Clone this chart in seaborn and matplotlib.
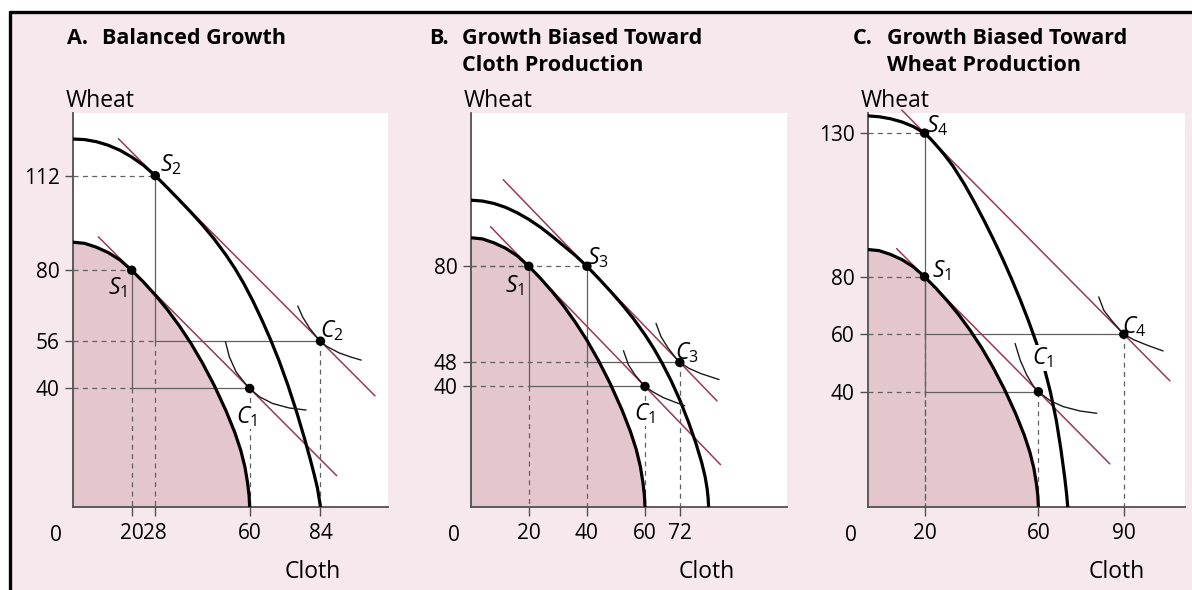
import matplotlib.pyplot as plt
import seaborn as sns
from matplotlib.lines import Line2D
from matplotlib.patches import Rectangle

# frontier before growth (same curve in all three panels)
ppf_cloth = [0, 4, 8, 12, 16, 20, 24, 28, 32, 36, 40, 44, 48, 52, 55, 57, 58.4, 59.3, 59.8, 60]
ppf_wheat = [89.5, 89.1, 87.8, 86.0, 83.5, 80, 76.0, 71.6, 66.8, 61.4, 55.4, 48.6, 41.0, 32.4, 25.0, 19.0, 13.4, 8.0, 3.8, 0]

# A. balanced growth
a_ppf_cloth = [0, 4, 8, 12, 16, 20, 24, 28, 32, 36, 40, 44, 48, 52, 55, 58, 61, 64, 67, 70,
               73, 76, 78.5, 80.5, 82, 83, 84]
a_ppf_wheat = [124.4, 124.2, 123.5, 122.3, 120.6, 118.3, 115.5, 112, 108, 103.9, 99.7, 95.3,
               90.5, 85.1, 80.6, 75.5, 69.8, 63.5, 56.7, 49.3, 41.0, 31.8, 23.4, 16.2, 10.4, 6.2, 0]
a_line1_cloth, a_line1_wheat = [8.7, 89.5], [91.3, 10.5]
a_line2_cloth, a_line2_wheat = [15.5, 102.5], [124.5, 37.5]
a_ic1_cloth = [51.8, 53.1, 55.4, 58.2, 60, 63.3, 67.8, 73.4, 79.1]
a_ic1_wheat = [55.8, 50.7, 45.6, 42.0, 40, 37.2, 34.9, 33.4, 32.7]
a_ic2_cloth = [76.3, 78.0, 80.3, 82.3, 84, 86.0, 90.4, 94.4, 97.8]
a_ic2_wheat = [67.9, 64.1, 60.4, 57.9, 56, 54.3, 52.0, 50.6, 49.6]
a_pts_cloth = [20, 28, 60, 84]
a_pts_wheat = [80, 112, 40, 56]
a_pts_label = ['$S_1$', '$S_2$', '$C_1$', '$C_2$']
a_xticks = [20, 28, 60, 84]
a_yticks = [40, 56, 80, 112]

# B. growth biased toward cloth
b_ppf_cloth = [0, 4, 8, 12, 16, 20, 24, 28, 32, 36, 40, 44, 48, 52, 56, 60, 63, 66, 69, 72,
               75, 77.5, 79.5, 80.7, 81.4, 81.75, 81.9]
b_ppf_wheat = [102.0, 101.7, 100.9, 99.6, 97.8, 95.6, 93.0, 90.0, 86.8, 83.6, 80, 76.0, 71.8,
               67.4, 62.6, 57.2, 52.7, 47.6, 41.9, 35.5, 28.1, 21.2, 14.8, 10.0, 6.0, 2.8, 0]
b_line1_cloth, b_line1_wheat = [6.8, 86], [93.2, 14]
b_line2_cloth, b_line2_wheat = [11.2, 84.8], [108.8, 35.2]
b_ic1_cloth = [52.6, 54.3, 56.6, 58.8, 60, 62.9, 66.3, 70.3, 73.7]
b_ic1_wheat = [51.9, 47.2, 43.8, 41.3, 40, 38.1, 36.3, 34.8, 33.6]
b_ic2_cloth = [63.8, 65.5, 67.8, 70.1, 72, 75.2, 79.2, 85.5]
b_ic2_wheat = [61, 56.6, 53.0, 50.1, 48, 46, 44.3, 42.3]
b_pts_cloth = [20, 40, 60, 72]
b_pts_wheat = [80, 80, 40, 48]
b_pts_label = ['$S_1$', '$S_3$', '$C_1$', '$C_3$']
b_xticks = [20, 40, 60, 72]
b_yticks = [40, 48, 80]

# C. growth biased toward wheat
c_ppf_cloth = [0, 4, 8, 12, 16, 20, 22, 24, 26.7, 30, 34, 37.5, 41.2, 44.5, 47.5, 50.5, 53.5,
               56.5, 59.3, 62, 64.2, 66.3, 67.9, 69.2, 69.9, 70.3]
c_ppf_wheat = [136.0, 135.7, 135.0, 133.9, 132.3, 130, 128.1, 125.9, 122.8, 118.5, 112.2, 106.0,
               99.0, 92.4, 86.1, 79.4, 72.3, 64.7, 57.0, 48.5, 40.0, 30.0, 20.0, 10.5, 4.5, 0]
c_line1_cloth, c_line1_wheat = [10.2, 85.1], [89.8, 14.9]
c_line2_cloth, c_line2_wheat = [12, 106.2], [138, 43.8]
c_ic1_cloth = [51.8, 53.6, 55.9, 58.2, 60, 64.1, 68.8, 74.6, 80.5]
c_ic1_wheat = [56.8, 51, 45.8, 42.0, 40, 36.9, 34.8, 33.3, 32.5]
c_ic2_cloth = [81.2, 83, 85.9, 88.2, 90, 93.5, 98.2, 103.8]
c_ic2_wheat = [73, 68.3, 64.6, 62.0, 60, 58.1, 56.2, 54.2]
c_pts_cloth = [20, 20, 60, 90]
c_pts_wheat = [80, 130, 40, 60]
c_pts_label = ['$S_1$', '$S_4$', '$C_1$', '$C_4$']
c_xticks = [20, 60, 90]
c_yticks = [40, 60, 80, 130]

BG = '#f6e8ed'
FILL = '#e4c6cf'
RED = '#9c3a52'
GUIDE = '#606060'
AXIS = '#505050'

sns.set_theme(style='white')
plt.rcParams['font.family'] = ['Open Sans', 'DejaVu Sans']
plt.rcParams['mathtext.fontset'] = 'custom'
plt.rcParams['mathtext.it'] = 'Open Sans:italic'
plt.rcParams['mathtext.rm'] = 'Open Sans'
for key in ['text.color', 'axes.labelcolor', 'xtick.color', 'ytick.color']:
    plt.rcParams[key] = 'black'

W, H = 1192, 590
fig = plt.figure(figsize=(W / 100, H / 100), dpi=100)
fig.patch.set_facecolor('white')
fig.add_artist(Rectangle((10 / W, 0), 1, 1 - 12 / H, transform=fig.transFigure,
                         facecolor=BG, edgecolor='none', zorder=-10))
fig.add_artist(Line2D([10 / W, 1], [1 - 12 / H] * 2, color='black', lw=2.4))
fig.add_artist(Line2D([10 / W] * 2, [0, 1 - 12 / H], color='black', lw=2.4))


def guides(ax, s, c):
    # dashed to the axes, solid between production and consumption point
    dash = dict(color=GUIDE, lw=0.9, ls=(0, (4, 3.5)), zorder=2)
    solid = dict(color=GUIDE, lw=0.9, zorder=2)
    ax.plot([0, s[0]], [s[1], s[1]], **dash)
    ax.plot([s[0], s[0]], [s[1], c[1]], **solid)
    ax.plot([s[0], s[0]], [c[1], 0], **dash)
    ax.plot([0, s[0]], [c[1], c[1]], **dash)
    ax.plot([s[0], c[0]], [c[1], c[1]], **solid)
    ax.plot([c[0], c[0]], [c[1], 0], **dash)


def panel(pos, xlim, ylim, outer, lines, ics, pts, xticks, yticks, offsets, cloth_x):
    ax = fig.add_axes(pos)
    ax.set_facecolor('white')
    ax.fill_between(ppf_cloth, ppf_wheat, 0, color=FILL, lw=0, zorder=1)
    cx, cy, labels = pts
    guides(ax, (cx[0], cy[0]), (cx[2], cy[2]))
    guides(ax, (cx[1], cy[1]), (cx[3], cy[3]))
    for lx, ly in lines:
        sns.lineplot(x=lx, y=ly, ax=ax, color=RED, lw=1.1, sort=False,
                     estimator=None, zorder=3, clip_on=False)
    for px, py in [(ppf_cloth, ppf_wheat), outer]:
        sns.lineplot(x=px, y=py, ax=ax, color='black', lw=2.3, sort=False,
                     estimator=None, zorder=4, solid_joinstyle='round')
    for ix, iy in ics:
        sns.lineplot(x=ix, y=iy, ax=ax, color='#1a1a1a', lw=1.0, sort=False,
                     estimator=None, zorder=4)
    sns.scatterplot(x=cx, y=cy, ax=ax, color='black', s=46, edgecolor='none', zorder=5)
    for x, y, t, (dx, dy) in zip(cx, cy, labels, offsets):
        kw = {}
        if t == '$C_1$':
            kw['bbox'] = dict(facecolor='white', edgecolor='none', pad=0.3)
        ax.annotate(t, (x, y), xytext=(dx, dy), textcoords='offset points',
                    ha='center', va='center', fontsize=16.5, zorder=6, **kw)
    ax.set_xlim(*xlim)
    ax.set_ylim(*ylim)
    ax.set_xticks(xticks)
    ax.set_yticks(yticks)
    ax.set_xlabel('')
    ax.set_ylabel('')
    for side in ['top', 'right']:
        ax.spines[side].set_visible(False)
    for side in ['left', 'bottom']:
        ax.spines[side].set_color(AXIS)
        ax.spines[side].set_linewidth(1.3)
    ax.tick_params(axis='x', direction='out', length=6.5, width=1, color=AXIS,
                   labelsize=15, pad=5, bottom=True)
    ax.tick_params(axis='y', direction='out', length=5.5, width=1, color=AXIS,
                   labelsize=15, pad=4, left=True)
    ax.annotate('0', (0, 0), xytext=(-12, -20.5), textcoords='offset points',
                ha='center', va='center', fontsize=15, annotation_clip=False)
    ax.text(cloth_x, -0.18, 'Cloth', transform=ax.transAxes, ha='center',
            va='baseline', fontsize=16.5)
    ax.text(-0.022, 1.015, 'Wheat', transform=ax.transAxes, ha='left',
            va='baseline', fontsize=16.5)
    return ax


panel([0.0610, 0.1412, 0.2645, 0.6673], (0, 106.9), (0, 133.2),
      (a_ppf_cloth, a_ppf_wheat),
      [(a_line1_cloth, a_line1_wheat), (a_line2_cloth, a_line2_wheat)],
      [(a_ic1_cloth, a_ic1_wheat), (a_ic2_cloth, a_ic2_wheat)],
      (a_pts_cloth, a_pts_wheat, a_pts_label), a_xticks, a_yticks,
      [(-10, -12.5), (11, 8), (-2, -20), (8.3, 7.3)], 0.762)

panel([0.3949, 0.1412, 0.2651, 0.6673], (0, 108.8), (0, 131),
      (b_ppf_cloth, b_ppf_wheat),
      [(b_line1_cloth, b_line1_wheat), (b_line2_cloth, b_line2_wheat)],
      [(b_ic1_cloth, b_ic1_wheat), (b_ic2_cloth, b_ic2_wheat)],
      (b_pts_cloth, b_pts_wheat, b_pts_label), b_xticks, b_yticks,
      [(-10.2, -13.9), (7.7, 5.9), (0, -19.5), (4.7, 7.4)], 0.748)

panel([0.7279, 0.1412, 0.2662, 0.6673], (0, 111.5), (0, 137),
      (c_ppf_cloth, c_ppf_wheat),
      [(c_line1_cloth, c_line1_wheat), (c_line2_cloth, c_line2_wheat)],
      [(c_ic1_cloth, c_ic1_wheat), (c_ic2_cloth, c_ic2_wheat)],
      (c_pts_cloth, c_pts_wheat, c_pts_label), c_xticks, c_yticks,
      [(12.6, 4.7), (9, 5.5), (3.3, 24.5), (7.2, 5.6)], 0.786)

# panel titles
title = dict(fontsize=15.5, fontweight='bold', va='baseline')
fig.text(67 / W, 1 - 44 / H, 'A.', **title)
fig.text(101.5 / W, 1 - 44 / H, 'Balanced Growth', **title)
fig.text(429 / W, 1 - 44 / H, 'B.', **title)
fig.text(462 / W, 1 - 44 / H, 'Growth Biased Toward', **title)
fig.text(462 / W, 1 - 71 / H, 'Cloth Production', **title)
fig.text(853 / W, 1 - 44 / H, 'C.', **title)
fig.text(887 / W, 1 - 44 / H, 'Growth Biased Toward', **title)
fig.text(887 / W, 1 - 71 / H, 'Wheat Production', **title)

fig.savefig('out.png', dpi=100, facecolor=fig.get_facecolor())
